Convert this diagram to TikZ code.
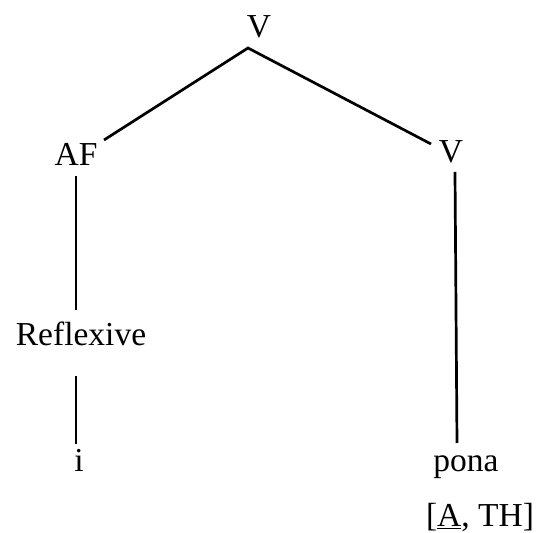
\documentclass[tikz,border=0pt]{standalone}
\usepackage{fontspec}
\setmainfont{Liberation Serif}
\usetikzlibrary{calc}
\begin{document}
\begin{tikzpicture}[x=1pt,y=1pt,
  lbl/.style={inner sep=0pt,outer sep=0pt,anchor=base,font=\fontsize{33.5}{40}\selectfont},
  edge/.style={line width=2.7pt,line cap=butt,line join=miter}]
\useasboundingbox (0,0) rectangle (536,533);
\node[lbl] (top) at (259,495) {V};
\node[lbl] (af) at (76,367) {AF};
\node[lbl] (v) at (451,370) {V};
\node[lbl] (refl) at (81,187) {Reflexive};
\node[lbl] (i) at (79,61) {i};
\node[lbl] (pona) at (466,61) {pona};
\node[lbl] (feat) at (480,6) {[\underline{A}, TH]};
\draw[edge] ($(af.base)+(28,26)$) -- ($(top.base)+(-11,-10)$) -- ($(v.base)+(-20,19)$);
\draw[edge] ($(af.base)+(0,-10)$) -- ($(refl.base)+(-5,36)$);
\draw[edge] ($(refl.base)+(-5,-30)$) -- ($(i.base)+(-3,28)$);
\draw[edge] ($(v.base)+(4,-9)$) -- ($(pona.base)+(-9,29)$);
\end{tikzpicture}
\end{document}
